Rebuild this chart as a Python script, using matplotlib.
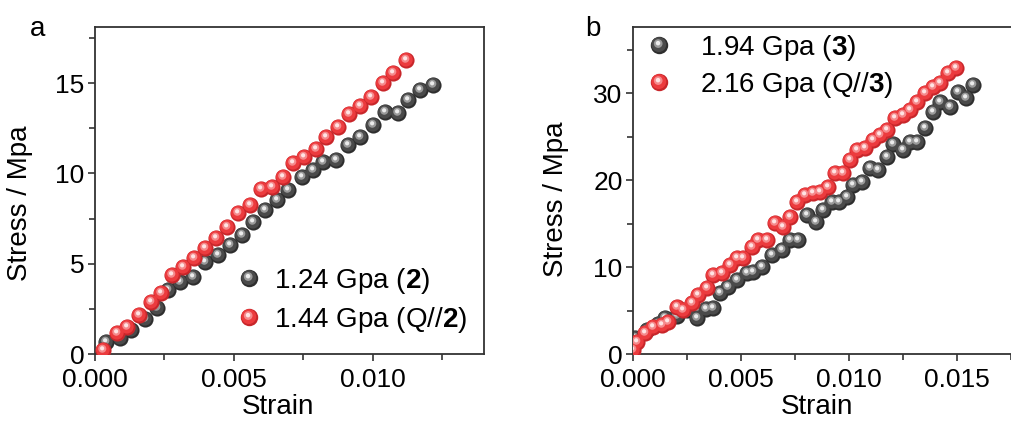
import numpy as np
import matplotlib
matplotlib.use("Agg")
import matplotlib.pyplot as plt
from matplotlib.path import Path
from matplotlib.markers import MarkerStyle
from matplotlib.lines import Line2D
from matplotlib.legend_handler import HandlerTuple
from matplotlib.ticker import MultipleLocator, FormatStrFormatter

plt.rcParams['font.family'] = ['Liberation Sans', 'DejaVu Sans']
plt.rcParams['mathtext.fontset'] = 'custom'
plt.rcParams['mathtext.rm'] = 'Liberation Sans'
plt.rcParams['mathtext.bf'] = 'Liberation Sans:bold'

# ---------------- data ----------------
# panel a
a_black_strain = [0.0004, 0.0009, 0.0013, 0.0018, 0.00222, 0.00264, 0.00306, 0.00354, 0.00396,
                  0.00444, 0.00486, 0.00528, 0.00569, 0.00612, 0.00654, 0.00695, 0.00744,
                  0.00785, 0.00821, 0.00869, 0.00911, 0.00953, 0.01001, 0.01043, 0.01091,
                  0.01127, 0.01169, 0.01217]
a_black_stress = [0.66, 0.87, 1.35, 1.95, 2.53, 3.54, 4.00, 4.28, 5.11,
                  5.48, 6.03, 6.59, 7.30, 7.97, 8.52, 9.08, 9.81,
                  10.18, 10.64, 10.74, 11.57, 12.03, 12.67, 13.41, 13.32,
                  14.06, 14.61, 14.89]
a_red_strain = [0.0003, 0.00078, 0.00116, 0.0016, 0.00201, 0.00237, 0.00276, 0.00318, 0.00356,
                0.00396, 0.00435, 0.00474, 0.00516, 0.00558, 0.00597, 0.00636, 0.00675,
                0.00713, 0.00753, 0.00795, 0.00833, 0.00875, 0.00915, 0.00953, 0.00993,
                0.01035, 0.01073, 0.01119]
a_red_stress = [0.22, 1.14, 1.51, 2.16, 2.90, 3.36, 4.37, 4.83, 5.29,
                5.85, 6.44, 7.05, 7.82, 8.25, 9.11, 9.26, 9.81,
                10.59, 10.92, 11.33, 12.03, 12.54, 13.28, 13.72, 14.24,
                14.98, 15.57, 16.27]

# panel b
b_black_strain = [0.0001, 0.00063, 0.00117, 0.00148, 0.00202, 0.00249, 0.00295, 0.00336, 0.00372,
                  0.00403, 0.00441, 0.0048, 0.00526, 0.00557, 0.00596, 0.00642, 0.00688,
                  0.00727, 0.00765, 0.00804, 0.00847, 0.00881, 0.0092, 0.00955, 0.00989,
                  0.0102, 0.01059, 0.01097, 0.01136, 0.01175, 0.01205, 0.01251, 0.01282,
                  0.01313, 0.01352, 0.0139, 0.01421, 0.01468, 0.01506, 0.01542, 0.01575]
b_black_stress = [1.8, 2.76, 3.4, 4.1, 4.4, 5.06, 4.1, 5.2, 5.25,
                  6.97, 7.74, 8.5, 9.27, 9.46, 10.03, 11.38, 11.95,
                  13.1, 13.1, 15.98, 15.21, 16.55, 17.5, 17.5, 18.08,
                  19.43, 19.8, 21.34, 21.15, 22.68, 24.2, 23.45, 24.4,
                  24.4, 25.94, 27.85, 29.0, 28.43, 30.15, 29.39, 30.92]
b_red_strain = [0.00002, 0.00017, 0.00056, 0.00094, 0.00133, 0.00164, 0.00202, 0.00233, 0.00272,
                0.00302, 0.00341, 0.00372, 0.00411, 0.00449, 0.0048, 0.00511, 0.0055,
                0.0058, 0.00619, 0.00657, 0.00693, 0.00727, 0.00758, 0.00796, 0.00832,
                0.00866, 0.00904, 0.00935, 0.00971, 0.01005, 0.01039, 0.01074, 0.0111,
                0.01144, 0.01177, 0.01213, 0.01249, 0.01282, 0.01316, 0.01352, 0.0139,
                0.01421, 0.0146, 0.01495]
b_red_stress = [0.46, 1.42, 2.38, 3.14, 3.33, 3.72, 5.44, 5.06, 5.82,
                6.78, 7.55, 9.08, 9.27, 10.23, 11.0, 11.0, 12.33,
                13.1, 13.1, 15.02, 14.63, 15.78, 17.5, 18.28, 18.47,
                18.66, 19.23, 20.77, 20.77, 22.3, 23.45, 23.64, 24.6,
                25.17, 25.75, 27.09, 27.47, 28.05, 29.0, 29.96, 30.72,
                31.11, 32.26, 32.83]

a_labels = [r"1.24 Gpa ($\mathbf{2}$)", r"1.44 Gpa (Q//$\mathbf{2}$)"]
b_labels = [r"1.94 Gpa ($\mathbf{3}$)", r"2.16 Gpa (Q//$\mathbf{3}$)"]
panel_letters = ["a", "b"]

# ---------------- sphere markers ----------------
def circ_marker(cx, cy, r):
    c = Path.circle(center=(cx, cy), radius=r)
    frame = Path([(1, 1), (-1, -1)], [Path.MOVETO, Path.MOVETO])
    return MarkerStyle(Path.make_compound_path(frame, c))

LAYERS = [
    (circ_marker(0, 0, 1.0), 0),
    (circ_marker(-0.08, 0.10, 0.85), 1),
    (circ_marker(-0.15, 0.22, 0.50), 2),
    (circ_marker(-0.17, 0.27, 0.26), 3),
]
PALETTE = {
    'gray': ['#2e2e2e', '#4a4a4a', '#9a9a9a', '#ececec'],
    'red': ['#c8262a', '#ec3b3e', '#f58a8c', '#ffe4e4'],
}
S = 135

def spheres(ax, x, y, key, z=2):
    cols = PALETTE[key]
    for m, i in LAYERS:
        ax.scatter(x, y, s=S, marker=m, color=cols[i], linewidths=0, zorder=z + i * 0.01)

def legend_handle(key):
    cols = PALETTE[key]
    return tuple(Line2D([], [], linestyle='none', marker=m, markersize=np.sqrt(S) * 1.08,
                        markerfacecolor=cols[i], markeredgewidth=0) for m, i in LAYERS)

# ---------------- figure ----------------
W, H = 1012, 421
fig = plt.figure(figsize=(W / 100, H / 100), dpi=100)
axA = fig.add_axes([95 / W, (H - 354) / H, (484 - 95) / W, (354 - 27) / H])
axB = fig.add_axes([633 / W, (H - 354) / H, (1014 - 633) / W, (354 - 27) / H])

FS_TICK = 19
FS_LAB = 20
FS_LEG = 20
spine_col = '#333333'
for ax in (axA, axB):
    for sp in ax.spines.values():
        sp.set_linewidth(1.3)
        sp.set_color(spine_col)
    ax.tick_params(which='both', direction='out', length=5, width=1.2, color=spine_col,
                   labelsize=FS_TICK, pad=2.5)
    ax.tick_params(axis='x', which='major', pad=5)
    ax.tick_params(which='minor', length=4)
    ax.xaxis.set_major_formatter(FormatStrFormatter('%.3f'))
    ax.xaxis.set_major_locator(MultipleLocator(0.005))
    ax.xaxis.set_minor_locator(MultipleLocator(0.0025))

# panel a
spheres(axA, a_black_strain, a_black_stress, 'gray', z=2)
spheres(axA, a_red_strain, a_red_stress, 'red', z=3)
axA.set_xlim(0, 0.014)
axA.set_ylim(0, 18.1)
axA.yaxis.set_major_locator(MultipleLocator(5))
axA.yaxis.set_minor_locator(MultipleLocator(2.5))
axA.set_xlabel("Strain", fontsize=FS_LAB)
axA.set_ylabel("Stress / Mpa", fontsize=FS_LAB)
axA.xaxis.set_label_coords(0.47, -0.122)
axA.yaxis.set_label_coords(-0.16, 0.46)
legA = axA.legend([legend_handle('gray'), legend_handle('red')], a_labels,
                  handler_map={tuple: HandlerTuple(ndivide=1)},
                  loc='upper left', bbox_to_anchor=((237 - 95) / 389, (354 - 266) / 327),
                  frameon=False, fontsize=FS_LEG, numpoints=1, handlelength=0.9,
                  handletextpad=0.45, labelspacing=0.32, borderpad=0, borderaxespad=0)
fig.text(38 / W, 1 - 29 / H, panel_letters[0], fontsize=FS_LAB, ha='center', va='center')

# panel b
spheres(axB, b_black_strain, b_black_stress, 'gray', z=2)
spheres(axB, b_red_strain, b_red_stress, 'red', z=3)
axB.set_xlim(0, 381 / 21600)
axB.set_ylim(0, 37.6)
axB.yaxis.set_major_locator(MultipleLocator(10))
axB.yaxis.set_minor_locator(MultipleLocator(5))
axB.set_xlabel("Strain", fontsize=FS_LAB)
axB.set_ylabel("Stress / Mpa", fontsize=FS_LAB)
axB.xaxis.set_label_coords(0.484, -0.122)
axB.yaxis.set_label_coords(-0.168, 0.474)
legB = axB.legend([legend_handle('gray'), legend_handle('red')], b_labels,
                  handler_map={tuple: HandlerTuple(ndivide=1)},
                  loc='upper left', bbox_to_anchor=((646 - 633) / 381, (354 - 33) / 327),
                  frameon=False, fontsize=FS_LEG, numpoints=1, handlelength=0.9,
                  handletextpad=1.05, labelspacing=0.25, borderpad=0, borderaxespad=0)
fig.text(593 / W, 1 - 29 / H, panel_letters[1], fontsize=FS_LAB, ha='center', va='center')

fig.savefig("out.png", dpi=100)
